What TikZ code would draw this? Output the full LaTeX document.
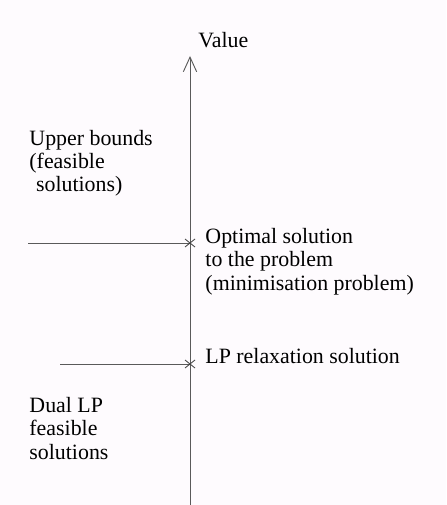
\documentclass[tikz,border=0pt]{standalone}
\usepackage{fontspec}
\setmainfont{Liberation Serif}
\usepackage{xcolor}
\usetikzlibrary{arrows.meta}

\definecolor{axisgray}{RGB}{90,90,90}
\definecolor{paper}{RGB}{254,251,254}

\begin{document}
\begin{tikzpicture}[
            x = 0.75pt, y = -0.75pt, % one unit is one pixel of the reference
            > = {Straight Barb[length=11pt,width=10pt]}, % arrow head style
            line width = 0.7pt, % line style
            textnote/.style = {anchor=base west, inner sep=0pt, align=left,
                            font=\fontsize{16.4pt}{17.5pt}\selectfont},
            cross/.style = {draw=black!75, line width=0.6pt}
        ]

\fill[paper] (0,0) rectangle (446,505);
\useasboundingbox (0,0) rectangle (446,505);

\coordinate (bottom) at (190,505);
\coordinate (top) at (190,56);
\coordinate (opt) at (190,243);
\coordinate (lp) at (190,364);
\coordinate (ubend) at (28,243);
\coordinate (dualend) at (60,364);

% multi-line notes are placed by the baseline of their last line
\node[textnote] (value) at (198,48) {Value};
\node[textnote] (ub) at (29,192) {Upper bounds\\(feasible\\\hspace*{5pt}solutions)};
\node[textnote] (optlabel) at (205,290) {Optimal solution\\to the problem\\(minimisation problem)};
\node[textnote] (lplabel) at (205,363) {LP relaxation solution};
\node[textnote] (dual) at (29,459) {Dual LP\\feasible\\solutions};

 \path [->, draw=axisgray] (bottom) edge (top);
 \path [draw=axisgray] (ubend) edge (opt);
 \path [draw=axisgray] (dualend) edge (lp);

 % crosses on the axis
 \draw[cross] ([shift={(-5,-4)}]opt) -- ([shift={(5,4)}]opt)
              ([shift={(-5,4)}]opt) -- ([shift={(5,-4)}]opt);
 \draw[cross] ([shift={(-5,-4)}]lp) -- ([shift={(5,4)}]lp)
              ([shift={(-5,4)}]lp) -- ([shift={(5,-4)}]lp);
\end{tikzpicture}
\end{document}
